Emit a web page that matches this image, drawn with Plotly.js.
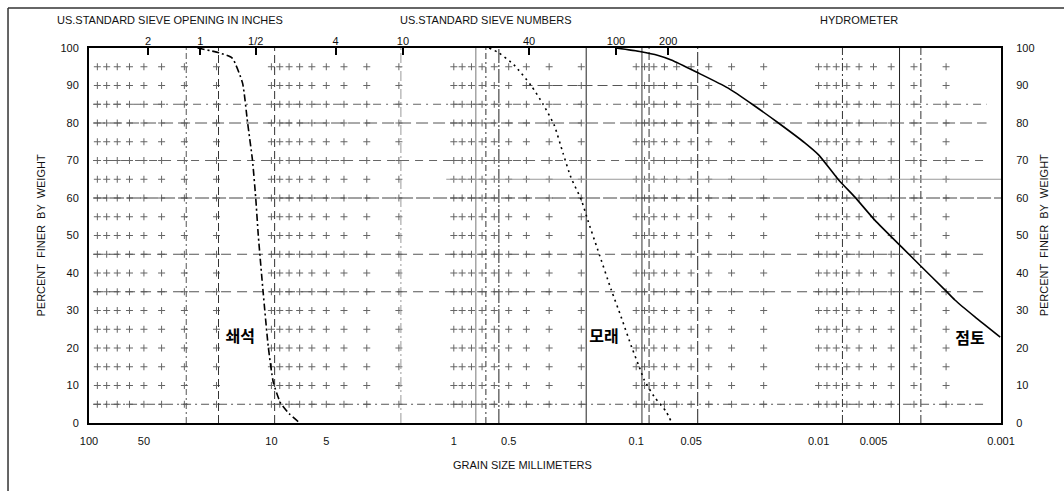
<!DOCTYPE html>
<html>
<head>
<meta charset="utf-8">
<script src="https://cdn.plot.ly/plotly-3.0.1.min.js"></script>
<style>html,body{margin:0;padding:0;background:#fff;}#chart{width:1064px;height:491px;}</style>
</head>
<body>
<div id="chart"></div>
<script>
// ---- data ----
const gravelSize = [25.4, 19.3, 16.4, 14.4, 13.5, 12.7, 12.2, 11.8, 11.1, 10.4, 9.75, 8.9, 8.0, 7.1];
const gravelPct  = [100, 98.7, 97.3, 90.7, 80, 70.1, 60.3, 50, 34.9, 20.3, 10.7, 5.3, 2.5, 0.3];

const sandSize = [0.64, 0.566, 0.468, 0.377, 0.324, 0.282, 0.252, 0.228, 0.200, 0.184, 0.162, 0.137, 0.121, 0.106, 0.0963, 0.0904, 0.0796, 0.0684, 0.0642];
const sandPct  = [100, 98.7, 95.5, 90, 85, 79.5, 72, 65.5, 59.5, 54, 46, 35.5, 28.3, 20.3, 15, 11.5, 7, 3, 0.3];

const claySize = [0.129, 0.094, 0.0757, 0.0642, 0.0468, 0.0313, 0.0228, 0.0166, 0.0119, 0.0100, 0.00776, 0.00634, 0.00492, 0.0035, 0.00272, 0.00203, 0.00179, 0.00139, 0.00101];
const clayPct  = [100, 99, 98, 96.8, 93.6, 89.3, 84.8, 80, 74.7, 71.5, 64.8, 60.3, 54.1, 46.9, 41.6, 35.5, 32.8, 28.3, 22.9];

const labelNames = ['쇄석', '모래', '점토'];
const labelSize  = [14.8, 0.150, 0.00148];
const labelPct   = [22.7, 22.7, 22.1];

const bottomTickVals = [100, 50, 10, 5, 1, 0.5, 0.1, 0.05, 0.01, 0.005, 0.001];
const bottomTickText = ['100', '50', '10', '5', '1', '0.5', '0.1', '0.05', '0.01', '0.005', '0.001'];

const sieveVals = [47.5, 24.5, 12.2, 4.45, 1.9, 0.387, 0.129, 0.0667];
const sieveText = ['2', '1', '1/2', '4', '10', '40', '100', '200'];

const yTicks = [0, 10, 20, 30, 40, 50, 60, 70, 80, 90, 100];

// chart grid decoration
const vLineX    = [29.3, 19.5, 9.6, 1.95, 0.757, 0.667, 0.566, 0.188, 0.093, 0.085, 0.046, 0.0074, 0.0036, 0.00275];
const vLineDash = ['6px,3px,2px,3px', '8px,4px', '8px,4px', '10px,3px,2px,3px', 'solid', '6px,3px,2px,3px', '14px,2px,2px,2px', 'solid', 'solid', '8px,3px', '14px,3px', '8px,3px,2px,3px', 'solid', '8px,3px,2px,3px'];
const vLineColor = ['#555', '#333', '#333', '#999', '#777', '#333', '#222', '#222', '#333', '#333', '#222', '#333', '#222', '#333'];

const hLineY    = [5, 35, 45, 60, 65, 70, 80, 85, 90];
const hLineFrom = [95, 95, 95, 95, 1.1, 95, 95, 95, 0.42];
const hLineTo   = [0.0012, 0.0012, 0.0012, 0.001, 0.001, 0.0012, 0.0012, 0.0012, 0.045];
const hLineDash = ['8px,4px,2px,4px', '10px,6px', '10px,6px', '14px,3px', 'solid', '8px,6px', '12px,5px', '8px,5px,2px,5px', '10px,5px'];
const hLineColor = ['#555', '#555', '#555', '#444', '#999', '#666', '#555', '#666', '#555'];

const crossDecades = [10, 1, 0.1, 0.01, 0.001];
const crossMult = [9, 8, 7, 6, 5, 4, 3, 2, 1];
const crossRows = [5, 10, 15, 20, 25, 30, 35, 40, 45, 50, 55, 60, 65, 70, 75, 80, 85, 90, 95];

// ---- build traces ----
const traces = [];
const cx = [], cy = [];
crossDecades.forEach(d => crossMult.forEach(m => {
  const v = d * m;
  if (v >= 100 || v <= 0.001) return;
  crossRows.forEach(r => { cx.push(v); cy.push(r); });
}));
traces.push({x: cx, y: cy, mode: 'markers', type: 'scatter', hoverinfo: 'skip',
  marker: {symbol: 'cross-thin', size: 5, color: '#666', line: {width: 1, color: '#666'}}});

vLineX.forEach((v, i) => traces.push({x: [v, v], y: [0, 100], mode: 'lines', type: 'scatter', hoverinfo: 'skip',
  line: {color: vLineColor[i], width: 1, dash: vLineDash[i]}}));
hLineY.forEach((v, i) => traces.push({x: [hLineFrom[i], hLineTo[i]], y: [v, v], mode: 'lines', type: 'scatter', hoverinfo: 'skip',
  line: {color: hLineColor[i], width: 1, dash: hLineDash[i]}}));

traces.push({x: gravelSize, y: gravelPct, mode: 'lines', type: 'scatter', name: '쇄석',
  line: {color: '#000', width: 1.6, dash: '7px,3px,2px,3px', shape: 'spline', smoothing: 0.5}});
traces.push({x: sandSize, y: sandPct, mode: 'lines', type: 'scatter', name: '모래',
  line: {color: '#000', width: 1.6, dash: '2px,4px', shape: 'spline', smoothing: 0.6}});
traces.push({x: claySize, y: clayPct, mode: 'lines', type: 'scatter', name: '점토',
  line: {color: '#000', width: 1.6, shape: 'spline', smoothing: 0.6}});

traces.push({x: labelSize, y: labelPct, text: labelNames, mode: 'text', type: 'scatter', hoverinfo: 'skip',
  textposition: 'middle center',
  textfont: {family: 'Noto Sans CJK KR', size: 16, color: '#000', weight: 'bold'}});

// helper trace so the overlay axes are drawn
traces.push({x: claySize, y: clayPct, xaxis: 'x2', yaxis: 'y2', mode: 'lines', type: 'scatter', hoverinfo: 'skip',
  line: {color: 'rgba(0,0,0,0)', width: 0}});

const font = {family: 'Liberation Sans, Arial, sans-serif', size: 11, color: '#111'};

const layout = {
  width: 1064, height: 491,
  margin: {l: 89, r: 63, t: 48, b: 68},
  paper_bgcolor: '#fff', plot_bgcolor: '#fff',
  showlegend: false,
  font: font,
  xaxis: {type: 'log', range: [2, -3], tickvals: bottomTickVals, ticktext: bottomTickText,
    ticks: 'outside', ticklen: 7, tickcolor: 'rgba(0,0,0,0)', showgrid: false, zeroline: false,
    showline: true, linewidth: 2, linecolor: '#000', mirror: true, tickfont: font},
  xaxis2: {type: 'log', range: [2, -3], overlaying: 'x', side: 'top', anchor: 'y',
    tickvals: sieveVals, ticktext: sieveText, ticks: 'inside', ticklen: 7, tickwidth: 2, tickcolor: '#000',
    showgrid: false, zeroline: false, showline: false, tickfont: font},
  yaxis: {range: [0, 100], tickvals: yTicks, ticks: 'outside', ticklen: 6, tickcolor: 'rgba(0,0,0,0)',
    showgrid: false, zeroline: false, showline: true, linewidth: 2, linecolor: '#000', mirror: true, tickfont: font},
  yaxis2: {range: [0, 100], overlaying: 'y', side: 'right', anchor: 'x', tickvals: yTicks,
    ticks: 'outside', ticklen: 12, tickcolor: 'rgba(0,0,0,0)', showgrid: false, zeroline: false, showline: false, tickfont: font},
  annotations: [
    {text: 'US.STANDARD SIEVE OPENING IN INCHES', xref: 'paper', yref: 'paper', x: 0.0888, y: 1.0747, showarrow: false, font: font, xanchor: 'center', yanchor: 'middle'},
    {text: 'US.STANDARD SIEVE NUMBERS', xref: 'paper', yref: 'paper', x: 0.4353, y: 1.0747, showarrow: false, font: font, xanchor: 'center', yanchor: 'middle'},
    {text: 'HYDROMETER', xref: 'paper', yref: 'paper', x: 0.8443, y: 1.0747, showarrow: false, font: font, xanchor: 'center', yanchor: 'middle'},
    {text: 'GRAIN SIZE MILLIMETERS', xref: 'paper', yref: 'paper', x: 0.4748, y: -0.112, showarrow: false, font: font, xanchor: 'center', yanchor: 'middle'},
    {text: 'PERCENT  FINER  BY  WEIGHT', xref: 'paper', yref: 'paper', x: -0.0537, y: 0.5, textangle: -90, showarrow: false, font: font, xanchor: 'center', yanchor: 'middle'},
    {text: 'PERCENT  FINER  BY  WEIGHT', xref: 'paper', yref: 'paper', x: 1.047, y: 0.5, textangle: -90, showarrow: false, font: font, xanchor: 'center', yanchor: 'middle'}
  ],
  shapes: [
    {type: 'line', xref: 'paper', yref: 'paper', x0: -0.0888, x1: -0.0888, y0: 1.1067, y1: -0.19, line: {color: '#333', width: 1.5}},
    {type: 'line', xref: 'paper', yref: 'paper', x0: -0.0888, x1: 1.08, y0: 1.1067, y1: 1.1067, line: {color: '#333', width: 1.5}}
  ]
};

Plotly.newPlot('chart', traces, layout, {staticPlot: true, displayModeBar: false});
</script>
</body>
</html>
